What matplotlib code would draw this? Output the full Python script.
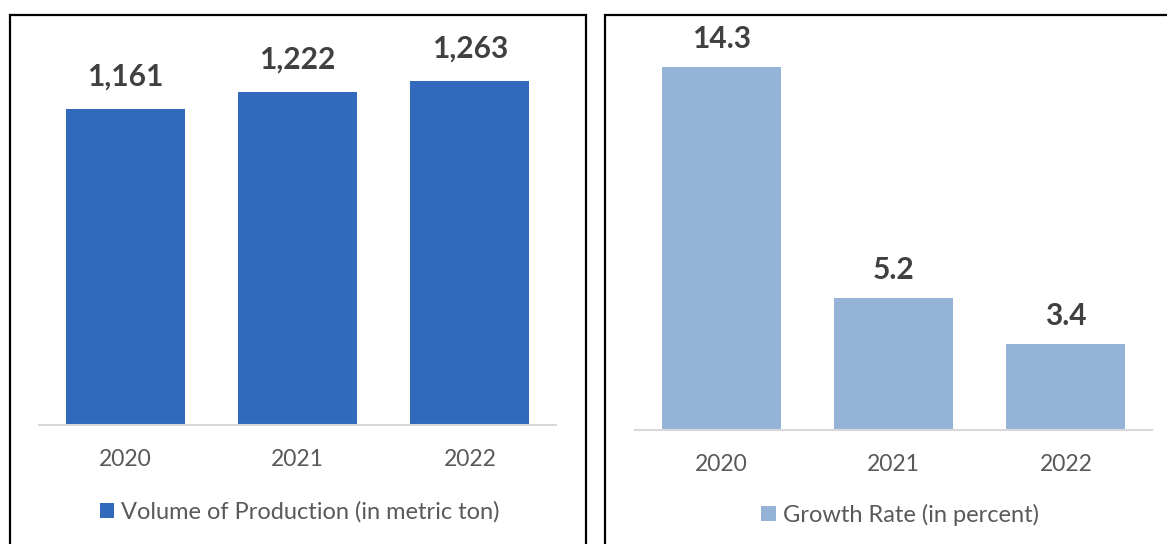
import matplotlib
matplotlib.use("Agg")
import matplotlib.pyplot as plt
from matplotlib.patches import Rectangle

years = ["2020", "2021", "2022"]
volume = [1161, 1222, 1263]
growth = [14.3, 5.2, 3.4]
volume_labels = ["1,161", "1,222", "1,263"]
growth_labels = ["14.3", "5.2", "3.4"]
legend_left = "Volume of Production (in metric ton)"
legend_right = "Growth Rate (in percent)"

plt.rcParams['font.family'] = ['Lato', 'DejaVu Sans']

W, H = 1167, 544
fig = plt.figure(figsize=(W / 100, H / 100), dpi=100)
fig.patch.set_facecolor("white")

def px_axes(x0, x1, ytop, ybase):
    return fig.add_axes([x0 / W, (H - ybase) / H, (x1 - x0) / W, (ybase - ytop) / H])

def setup(ax, values, labels, color, ymax, offset_px, leg_text, leg_center):
    x = list(range(len(values)))
    ax.bar(x, values, width=0.69, color=color, label=leg_text, zorder=2)
    ax.set_xlim(-0.5, len(values) - 0.5)
    ax.set_ylim(0, ymax)
    ax.set_xticks(x)
    ax.set_xticklabels(years, fontsize=16.5, color="#595959")
    ax.tick_params(axis='x', length=0, pad=17)
    ax.set_yticks([])
    for s in ["top", "right", "left"]:
        ax.spines[s].set_visible(False)
    ax.spines["bottom"].set_color("#D9D9D9")
    ax.spines["bottom"].set_linewidth(1.5)
    ax.patch.set_alpha(0)
    for xi, v, lab in zip(x, values, labels):
        ax.annotate(lab, (xi, v), xytext=(0, offset_px * 0.72), textcoords="offset points",
                    ha="center", va="center", fontsize=21.5, fontweight="bold", color="#404040")
    ax.legend(loc="center", bbox_to_anchor=(leg_center[0] / W, 1 - leg_center[1] / H),
              bbox_transform=fig.transFigure, frameon=False, fontsize=17,
              labelcolor="#595959", handlelength=0.6, handleheight=0.6,
              handletextpad=0.3, borderpad=0)

# panel borders
fig.add_artist(Rectangle((10 / W, -0.05), 576 / W, 1.05 - 15 / H, transform=fig.transFigure,
                         fill=False, edgecolor="black", linewidth=1.6))
fig.add_artist(Rectangle((605 / W, -0.05), 600 / W, 1.05 - 15 / H, transform=fig.transFigure,
                         fill=False, edgecolor="black", linewidth=1.6))

ax1 = px_axes(39, 556, 15, 425)
setup(ax1, volume, volume_labels, "#3169BC", (425 - 15) / 0.2723, 32.5, legend_left, (300, 512))

ax2 = px_axes(635, 1152, 15, 430)
setup(ax2, growth, growth_labels, "#95B3D7", (430 - 15) / 25.4, 28, legend_right, (900, 515))

fig.savefig("out.png", dpi=100, facecolor="white")
